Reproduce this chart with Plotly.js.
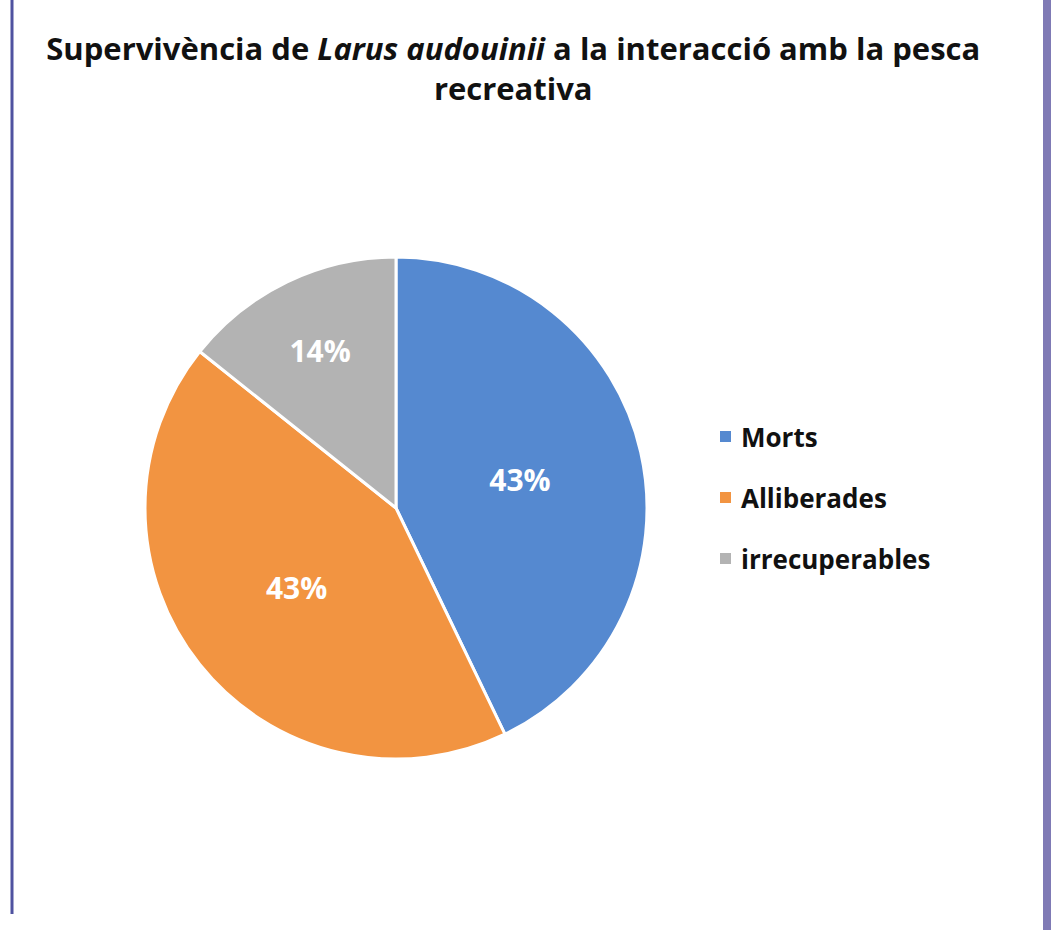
<!DOCTYPE html>
<html>
<head>
<meta charset="utf-8">
<script src="https://cdn.plot.ly/plotly-3.0.1.min.js"></script>
<style>html,body{margin:0;padding:0;background:#fff;}#chart{width:1055px;height:930px;}</style>
</head>
<body>
<div id="chart"></div>
<script>
const categories = ["Morts", "Alliberades", "irrecuperables"];
const values = [3, 3, 1];
const colors = ["#5589d0", "#f29441", "#b3b3b3"];
const titleText = "Supervivència de <i>Larus audouinii</i> a la interacció amb la pesca<br>recreativa";

const W = 1055, H = 930;
const px = x => x / W;
const py = y => 1 - y / H;

const trace = {
  type: "pie",
  labels: categories,
  values: values,
  sort: false,
  direction: "clockwise",
  rotation: 0,
  marker: {colors: colors, line: {color: "#ffffff", width: 3}},
  texttemplate: "%{percent:.0%}",
  textposition: "inside",
  insidetextorientation: "horizontal",
  textfont: {family: "Open Sans, sans-serif", size: 30, color: "#ffffff", weight: 700},
  hoverinfo: "label+percent",
  domain: {x: [px(396 - 251), px(396 + 251)], y: [py(508 + 251), py(508 - 251)]},
  showlegend: false
};

const shapes = [
  {type: "line", xref: "paper", yref: "paper", x0: px(12), x1: px(12), y0: py(914), y1: 1, line: {color: "#4f52a0", width: 3}},
  {type: "line", xref: "paper", yref: "paper", x0: px(1047), x1: px(1047), y0: 0, y1: 1, line: {color: "#7f7ab5", width: 8}}
];
const annotations = [];
categories.forEach((c, i) => {
  const yc = 437 + i * 61;
  shapes.push({type: "rect", xref: "paper", yref: "paper",
    x0: px(720), x1: px(731), y0: py(yc + 5), y1: py(yc - 6),
    fillcolor: colors[i], line: {width: 0}});
  annotations.push({xref: "paper", yref: "paper", x: px(739), y: py(yc), xanchor: "left", yanchor: "middle",
    text: c, showarrow: false, font: {family: "Open Sans, sans-serif", size: 26, color: "#111111", weight: 700}});
});

const layout = {
  width: W, height: H,
  margin: {l: 0, r: 0, t: 0, b: 0},
  paper_bgcolor: "#ffffff",
  title: {text: titleText, x: 0.4865, xanchor: "center", y: py(60), yanchor: "middle",
    font: {family: "Open Sans, sans-serif", size: 31, color: "#111111", weight: 700}},
  shapes: shapes,
  annotations: annotations,
  showlegend: false
};

Plotly.newPlot("chart", [trace], layout, {displayModeBar: false});
</script>
</body>
</html>
